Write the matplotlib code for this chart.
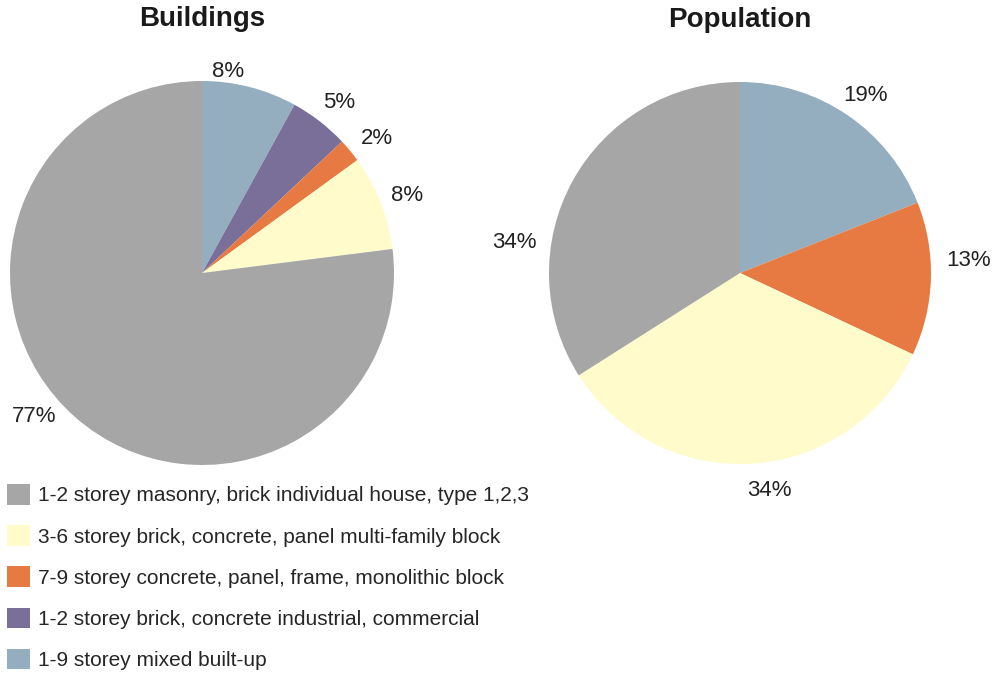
import numpy as np
import matplotlib
matplotlib.use("Agg")
import matplotlib.pyplot as plt

plt.rcParams['font.family'] = ['Liberation Sans', 'DejaVu Sans']

# data (clockwise from 12 o'clock)
categories = ["1-9 storey mixed built-up",
              "1-2 storey brick, concrete industrial, commercial",
              "7-9 storey concrete, panel, frame, monolithic block",
              "3-6 storey brick, concrete, panel multi-family block",
              "1-2 storey masonry, brick individual house, type 1,2,3"]
colors = ["#95AEBF", "#7A6F99", "#E67A42", "#FFFBCB", "#A6A6A6"]
buildings = [8, 5, 2, 8, 77]
pop_categories = ["1-9 storey mixed built-up",
                  "7-9 storey concrete, panel, frame, monolithic block",
                  "3-6 storey brick, concrete, panel multi-family block",
                  "1-2 storey masonry, brick individual house, type 1,2,3"]
population = [19, 13, 34, 34]
pop_colors = ["#95AEBF", "#E67A42", "#FFFBCB", "#A6A6A6"]

# label placement tweaks (angle offset deg, radial distance)
b_lab = [(7, 1.06), (-1, 1.14), (-2, 1.15), (-1, 1.14), (-8, 1.15)]
p_lab = [(-1, 1.14), (5, 1.2), (4, 1.15), (21, 1.19)]

fig = plt.figure(figsize=(10, 6.81), dpi=100)
W, H = 1000, 681


def pie_axes(cx, cy, r):
    return fig.add_axes([(cx - r) / W, (H - cy - r) / H, 2 * r / W, 2 * r / H])


def draw(ax, vals, cols, labs, title, r):
    wedges, _ = ax.pie(vals, colors=cols, startangle=90, counterclock=False,
                       wedgeprops=dict(linewidth=0))
    for w, v, (off, d) in zip(wedges, vals, labs):
        ang = np.deg2rad((w.theta1 + w.theta2) / 2 + off)
        ax.text(d * np.cos(ang), d * np.sin(ang), f"{v}%", ha='center', va='center',
                fontsize=16, color='#222222', clip_on=False)
    ax.set_xlim(-1, 1)
    ax.set_ylim(-1, 1)
    ax.set_aspect('equal')
    ax.axis('off')
    ax.text(0, 1 + 62 / r, title, ha='center', va='center', fontsize=20,
            fontweight='bold', color='#1a1a1a', clip_on=False)
    return wedges


ax1 = pie_axes(202, 273, 192)
w1 = draw(ax1, buildings, colors, b_lab, "Buildings", 192)
ax2 = pie_axes(740, 273, 191)
draw(ax2, population, pop_colors, p_lab, "Population", 191)

fig.legend(w1[::-1], categories[::-1], loc='upper left',
           bbox_to_anchor=(0.007, 1 - 484 / H), frameon=False, fontsize=15,
           handlelength=1.12, handleheight=1.15, handletextpad=0.38,
           labelspacing=0.95, borderpad=0, borderaxespad=0, labelcolor='#262626')

fig.savefig("out.png", dpi=100)
